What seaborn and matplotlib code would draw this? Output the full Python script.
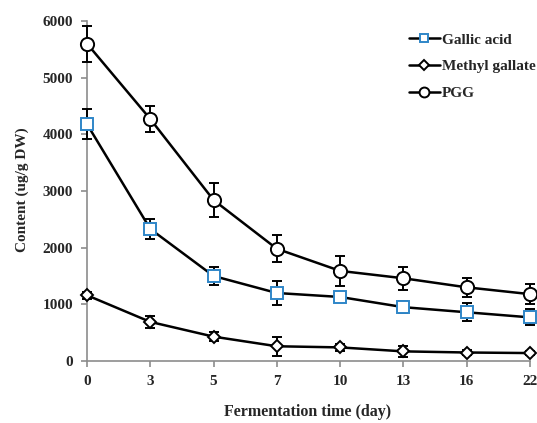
import matplotlib
matplotlib.use("Agg")
import matplotlib.pyplot as plt
import seaborn as sns
import pandas as pd
import numpy as np

days = ["0", "3", "5", "7", "10", "13", "16", "22"]
gallic_acid = [4180, 2330, 1500, 1200, 1130, 950, 860, 770]
gallic_acid_err = [270, 170, 160, 220, 80, 110, 160, 140]
methyl_gallate = [1160, 690, 430, 260, 240, 170, 150, 140]
methyl_gallate_err = [60, 100, 80, 170, 60, 100, 40, 30]
pgg = [5600, 4270, 2840, 1980, 1590, 1460, 1300, 1180]
pgg_err = [320, 230, 300, 240, 270, 200, 170, 180]

sns.set_theme(style="white")
plt.rcParams['font.family'] = ['Liberation Serif', 'DejaVu Serif']
plt.rcParams['font.weight'] = 'bold'

fig = plt.figure(figsize=(5.37, 4.23), dpi=100)
ax = fig.add_axes([87/537, 1-361/423, (530-87)/537, (361-21)/423])

pos = np.arange(len(days))
series = [
    ("Gallic acid", gallic_acid, gallic_acid_err, "s", "#2f86c8", 8.5),
    ("Methyl gallate", methyl_gallate, methyl_gallate_err, "D", "black", 6.5),
    ("PGG", pgg, pgg_err, "o", "black", 9.5),
]

for name, vals, err, mk, ec, ms in series:
    eb = ax.errorbar(pos, vals, yerr=err, fmt="none", ecolor="black",
                     elinewidth=1.4, capsize=3.5, capthick=1.4, zorder=2)
    for art in eb.lines[1] + eb.lines[2]:
        art.set_clip_on(False)
    df = pd.DataFrame({"x": pos, "y": vals})
    sns.lineplot(data=df, x="x", y="y", ax=ax, color="black", linewidth=1.8,
                 marker=mk, markersize=ms, markerfacecolor="white",
                 markeredgecolor=ec, markeredgewidth=1.4, label=name, zorder=3,
                 clip_on=False)

ax.set_xlim(0, len(days) - 1)
ax.set_ylim(0, 6000)
ax.set_yticks(range(0, 6001, 1000))
ax.set_xticks(pos)
ax.set_xticklabels(days)
for s in ["top", "right"]:
    ax.spines[s].set_visible(False)
for s in ["left", "bottom"]:
    ax.spines[s].set_color("#8c8c8c")
    ax.spines[s].set_linewidth(1.2)
    ax.spines[s].set_zorder(1)
ax.tick_params(axis="both", which="both", direction="out", length=4,
               color="#8c8c8c", width=1.2, labelsize=11, pad=6,
               left=True, bottom=True)
for lab in ax.get_xticklabels() + ax.get_yticklabels():
    lab.set_fontweight("bold")

ax.set_xlabel("")
ax.set_ylabel("")
fig.text(308/537, 1-412/423, "Fermentation time (day)", ha="center", va="center",
         fontsize=11.5, fontweight="bold")
fig.text(22/537, 1-190/423, "Content (ug/g DW)", ha="center", va="center",
         rotation=90, fontsize=11, fontweight="bold")

leg = ax.legend(loc="upper left", bbox_to_anchor=(409/537, 1-33/423),
                bbox_transform=fig.transFigure, frameon=False,
                handlelength=2.0, handletextpad=0.15, labelspacing=0.85,
                borderaxespad=0, borderpad=0, markerscale=0.75,
                prop={"family": "Liberation Serif", "weight": "bold", "size": 11})

fig.savefig("out.png", dpi=100)
